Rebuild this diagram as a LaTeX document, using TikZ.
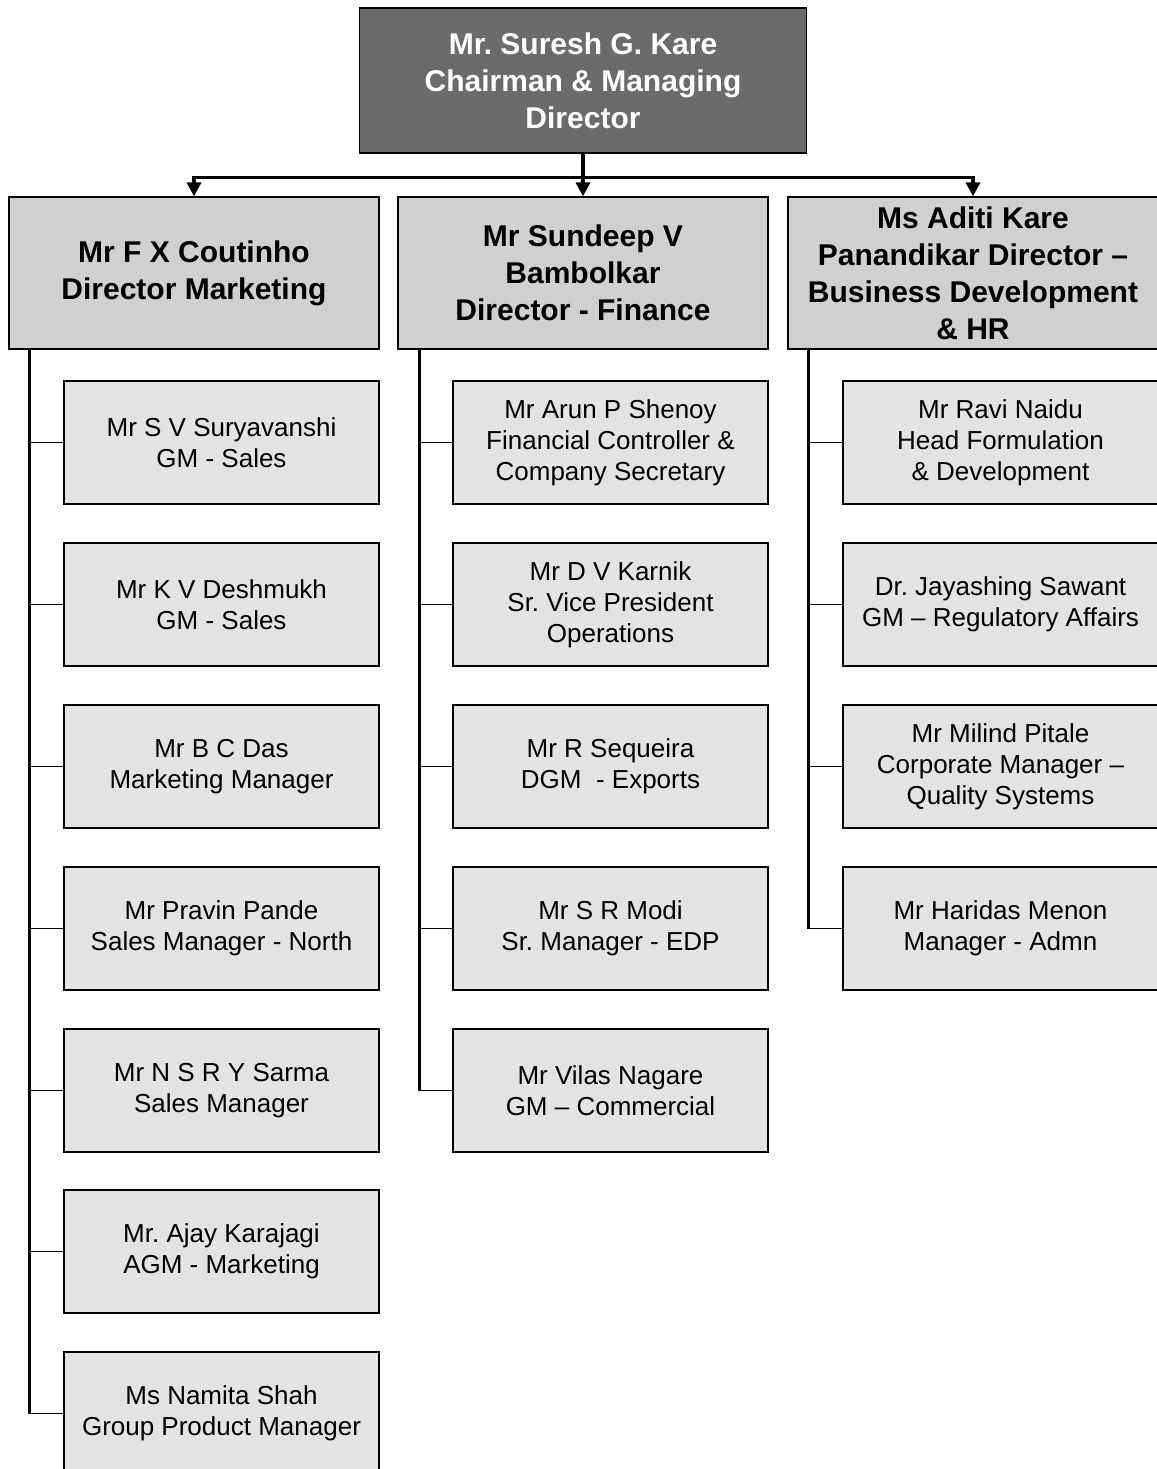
\documentclass[tikz,border=0pt]{standalone}
\usepackage{fontspec}
\setmainfont{Liberation Sans}
\usetikzlibrary{arrows.meta}
\frenchspacing

\definecolor{chairgray}{RGB}{107,107,107}
\definecolor{dirgray}{RGB}{208,208,208}
\definecolor{staffgray}{RGB}{227,227,227}

\begin{document}
\begin{tikzpicture}[x=1pt,y=-1pt,
  chairbox/.style={draw,line width=1.2pt,fill=chairgray,text=white,align=center,
    font=\bfseries\fontsize{30}{37}\selectfont,minimum width=447pt,minimum height=145pt,inner sep=0pt},
  dirbox/.style={draw,line width=1.2pt,fill=dirgray,align=center,
    font=\bfseries\fontsize{30}{37}\selectfont,minimum width=370pt,minimum height=152pt,inner sep=0pt},
  staffbox/.style={draw,line width=1.2pt,fill=staffgray,align=center,
    font=\fontsize{26}{31}\selectfont,minimum width=315pt,minimum height=123pt,inner sep=0pt},
  feed/.style={line width=3.5pt,line join=miter,-{Triangle[width=14pt,length=14pt]}},
  spine/.style={line width=3pt},
  twig/.style={line width=1.2pt}]

  \useasboundingbox (0,0) rectangle (1156,1469);

  \node[chairbox] (chair) at (583,80.5) {Mr. Suresh G. Kare\\Chairman \& Managing\\Director};

  \node[dirbox] (mkt) at (194,273) {Mr F X Coutinho\\Director Marketing};
  \node[dirbox] (fin) at (583,273) {Mr Sundeep V\\Bambolkar\\Director - Finance};
  \node[dirbox] (bd) at (973,273) {Ms Aditi Kare\\Panandikar Director –\\Business Development\\\& HR};

  \draw[feed] (chair.south) -- ++(0,24) -| (mkt.north);
  \draw[feed] (chair.south) -- (fin.north);
  \draw[feed] (chair.south) -- ++(0,24) -| (bd.north);

  % marketing
  \node[staffbox] (m1) at (221.5,442.5) {Mr S V Suryavanshi\\GM - Sales};
  \node[staffbox] (m2) at (221.5,604.5) {Mr K V Deshmukh\\GM - Sales};
  \node[staffbox] (m3) at (221.5,766.5) {Mr B C Das\\Marketing Manager};
  \node[staffbox] (m4) at (221.5,928.5) {Mr Pravin Pande\\Sales Manager - North};
  \node[staffbox] (m5) at (221.5,1090.5) {Mr N S R Y Sarma\\Sales Manager};
  \node[staffbox] (m6) at (221.5,1251.5) {Mr. Ajay Karajagi\\AGM - Marketing};
  \node[staffbox] (m7) at (221.5,1413.5) {Ms Namita Shah\\Group Product Manager};

  % finance
  \node[staffbox] (f1) at (610.5,442.5) {Mr Arun P Shenoy\\Financial Controller \&\\Company Secretary};
  \node[staffbox] (f2) at (610.5,604.5) {Mr D V Karnik\\Sr. Vice President\\Operations};
  \node[staffbox] (f3) at (610.5,766.5) {Mr R Sequeira\\DGM~ - Exports};
  \node[staffbox] (f4) at (610.5,928.5) {Mr S R Modi\\Sr. Manager - EDP};
  \node[staffbox] (f5) at (610.5,1090.5) {Mr Vilas Nagare\\GM – Commercial};

  % business development
  \node[staffbox] (b1) at (1000.5,442.5) {Mr Ravi Naidu\\Head Formulation\\\& Development};
  \node[staffbox] (b2) at (1000.5,604.5) {Dr. Jayashing Sawant\\GM – Regulatory Affairs};
  \node[staffbox] (b3) at (1000.5,766.5) {Mr Milind Pitale\\Corporate Manager –\\Quality Systems};
  \node[staffbox] (b4) at (1000.5,928.5) {Mr Haridas Menon\\Manager - Admn};

  \coordinate (ms) at ([xshift=21.5pt]mkt.south west);
  \coordinate (fs) at ([xshift=22pt]fin.south west);
  \coordinate (bs) at ([xshift=21.5pt]bd.south west);

  \draw[spine] (ms) -- (ms |- m7.west);
  \draw[spine] (fs) -- (fs |- f5.west);
  \draw[spine] (bs) -- (bs |- b4.west);

  \draw[twig] (m1.west) -- (ms |- m1.west);
  \draw[twig] (m2.west) -- (ms |- m2.west);
  \draw[twig] (m3.west) -- (ms |- m3.west);
  \draw[twig] (m4.west) -- (ms |- m4.west);
  \draw[twig] (m5.west) -- (ms |- m5.west);
  \draw[twig] (m6.west) -- (ms |- m6.west);
  \draw[twig] (m7.west) -- (ms |- m7.west);

  \draw[twig] (f1.west) -- (fs |- f1.west);
  \draw[twig] (f2.west) -- (fs |- f2.west);
  \draw[twig] (f3.west) -- (fs |- f3.west);
  \draw[twig] (f4.west) -- (fs |- f4.west);
  \draw[twig] (f5.west) -- (fs |- f5.west);

  \draw[twig] (b1.west) -- (bs |- b1.west);
  \draw[twig] (b2.west) -- (bs |- b2.west);
  \draw[twig] (b3.west) -- (bs |- b3.west);
  \draw[twig] (b4.west) -- (bs |- b4.west);

\end{tikzpicture}
\end{document}
